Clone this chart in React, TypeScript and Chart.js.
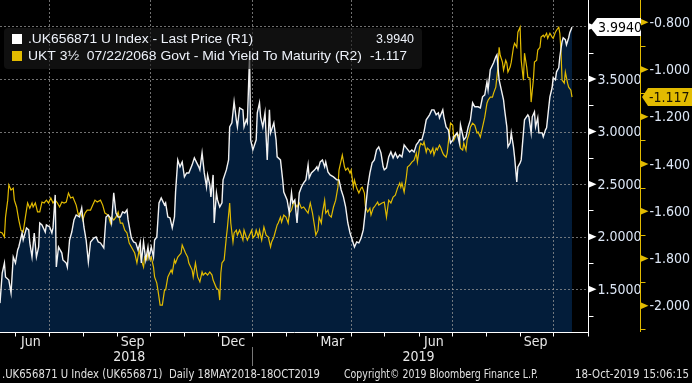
import React, { useEffect, useRef } from "react";
import { Chart, registerables } from "chart.js";

Chart.register(...registerables);

// ---- data (x = days since 18-May-2018) ----
const whiteDays = [
  0, 2, 4, 5, 8, 10, 12, 14, 16, 17,
  20, 21, 24, 26, 27, 29, 31, 33, 35, 36,
  38, 41, 42, 45, 47, 48, 50, 51, 53, 56,
  57, 60, 61, 63, 65, 67, 69, 72, 74, 76,
  78, 80, 82, 85, 87, 89, 91, 94, 96, 98,
  100, 101, 103, 105, 107, 109, 111, 113, 115, 116,
  119, 121, 123, 125, 127, 128, 130, 132, 134, 135,
  137, 139, 140, 142, 144, 146, 149, 150, 152, 154,
  156, 158, 159, 161, 163, 165, 167, 169, 171, 174,
  176, 180, 181, 183, 185, 187, 188, 190, 191, 193,
  194, 196, 197, 199, 201, 202, 205, 207, 208, 210,
  212, 214, 215, 217, 220, 221, 223, 224, 226, 227,
  229, 232, 233, 235, 236, 238, 240, 242, 244, 245,
  248, 250, 251, 254, 256, 257, 260, 262, 264, 265,
  267, 269, 271, 273, 275, 277, 279, 280, 282, 285,
  287, 288, 290, 292, 294, 295, 297, 299, 302, 305,
  307, 309, 311, 313, 315, 317, 319, 321, 323, 325,
  327, 329, 331, 333, 335, 337, 339, 341, 343, 345,
  347, 348, 350, 352, 354, 356, 358, 360, 362, 364,
  366, 368, 371, 373, 375, 377, 379, 380, 382, 384,
  386, 389, 391, 393, 395, 397, 398, 401, 402, 404,
  406, 408, 410, 411, 414, 416, 417, 420, 422, 424,
  426, 428, 430, 433, 435, 437, 439, 441, 442, 444,
  447, 449, 450, 452, 454, 456, 457, 459, 460, 462,
  463, 465, 466, 468, 469, 471, 472, 474, 475, 478,
  479, 481, 482, 484, 485, 487, 488, 491, 492, 494,
  495, 497, 498, 500, 501, 503, 504, 506, 507, 509,
  510, 512, 513, 515, 516, 518,
];
const whiteVals = [
  1.369, 1.655, 1.75, 1.617, 1.588, 1.465, 1.807, 1.75, 1.874, 1.903,
  2.036, 1.969, 2.084, 2.065, 1.941, 1.807, 2.036, 1.807, 1.903, 2.131,
  2.112, 2.045, 2.112, 2.093, 2.036, 2.084, 2.398, 1.712, 1.903, 1.845,
  1.779, 1.75, 1.712, 1.969, 2.045, 2.16, 2.207, 2.188, 2.274, 2.093,
  1.969, 1.76, 1.95, 1.988, 1.998, 1.95, 1.941, 1.893, 2.188, 2.207,
  2.179, 2.131, 2.417, 2.226, 2.188, 2.188, 2.236, 2.226, 2.255, 2.16,
  1.988, 1.95, 1.941, 1.874, 1.95, 1.75, 1.95, 1.779, 1.903, 1.807,
  1.903, 1.807, 1.969, 1.998, 2.322, 2.369, 2.303, 2.322, 2.188, 2.179,
  2.084, 2.188, 2.426, 2.731, 2.665, 2.712, 2.569, 2.607, 2.607, 2.684,
  2.75, 2.665, 2.636, 2.798, 2.607, 2.474, 2.588, 2.493, 2.379, 2.588,
  2.131, 2.417, 2.35, 2.284, 2.322, 2.541, 2.636, 2.731, 3.045, 3.084,
  3.284, 3.112, 3.045, 3.226, 3.207, 3.045, 3.112, 3.084, 3.722, 2.922,
  2.826, 2.922, 3.179, 3.274, 3.141, 3.045, 3.179, 2.731, 3.207, 2.988,
  3.084, 2.922, 2.76, 2.731, 2.541, 2.426, 2.35, 2.226, 2.417, 2.322,
  2.35, 2.131, 2.417, 2.474, 2.512, 2.541, 2.684, 2.56, 2.607, 2.636,
  2.665, 2.636, 2.712, 2.731, 2.665, 2.712, 2.617, 2.588, 2.569, 2.541,
  2.541, 2.445, 2.379, 2.284, 2.131, 2.036, 1.969, 1.903, 1.95, 1.941,
  1.988, 2.065, 2.255, 2.474, 2.607, 2.703, 2.731, 2.826, 2.855, 2.798,
  2.665, 2.636, 2.655, 2.76, 2.807, 2.75, 2.798, 2.75, 2.779, 2.76,
  2.874, 2.845, 2.807, 2.826, 2.807, 2.874, 2.903, 2.922, 2.922, 2.998,
  3.112, 3.16, 3.207, 3.207, 3.16, 3.179, 3.131, 3.207, 3.141, 3.045,
  3.017, 2.893, 2.922, 2.95, 2.988, 2.893, 3.065, 2.922, 2.95, 3.045,
  3.112, 3.274, 3.236, 3.236, 3.226, 3.331, 3.35, 3.474, 3.398, 3.588,
  3.655, 3.712, 3.731, 3.493, 3.398, 3.303, 3.207, 3.045, 2.855, 2.893,
  2.988, 2.855, 2.76, 2.522, 2.665, 2.703, 2.731, 2.988, 3.112, 3.16,
  3.141, 2.988, 3.141, 3.188, 3.045, 3.131, 2.988, 2.988, 2.95, 3.017,
  3.036, 3.236, 3.331, 3.417, 3.512, 3.493, 3.569, 3.607, 3.712, 3.855,
  3.893, 3.874, 3.826, 3.893, 3.941, 3.994,
];

const yellowDays = [
  0, 2, 4, 5, 7, 8, 10, 12, 13, 15,
  17, 19, 21, 23, 25, 27, 29, 30, 32, 34,
  36, 38, 40, 42, 44, 46, 48, 50, 52, 54,
  56, 58, 60, 62, 64, 66, 69, 71, 73, 75,
  77, 79, 82, 84, 86, 88, 91, 93, 95, 98,
  100, 101, 103, 105, 107, 109, 111, 113, 115, 117,
  119, 122, 124, 126, 128, 130, 131, 133, 134, 136,
  137, 139, 140, 142, 143, 145, 147, 149, 150, 152,
  155, 156, 158, 159, 161, 164, 165, 168, 170, 171,
  174, 175, 177, 179, 181, 183, 184, 186, 188, 190,
  192, 193, 196, 198, 199, 200, 201, 203, 205, 206,
  208, 209, 211, 212, 214, 215, 217, 218, 220, 221,
  223, 224, 226, 228, 229, 231, 232, 234, 235, 237,
  239, 241, 243, 245, 246, 248, 249, 251, 252, 254,
  255, 257, 259, 261, 262, 264, 266, 267, 269, 271,
  273, 275, 277, 279, 281, 283, 285, 286, 288, 289,
  291, 292, 294, 295, 297, 298, 300, 302, 304, 306,
  307, 309, 310, 312, 313, 315, 317, 318, 320, 321,
  323, 325, 327, 328, 330, 331, 333, 335, 336, 338,
  339, 342, 343, 346, 348, 350, 352, 354, 356, 358,
  360, 362, 363, 364, 366, 368, 369, 371, 373, 375,
  377, 378, 380, 381, 383, 384, 386, 387, 389, 390,
  392, 393, 395, 396, 398, 399, 401, 402, 404, 405,
  407, 408, 410, 411, 413, 414, 416, 417, 419, 420,
  422, 423, 425, 426, 428, 430, 432, 433, 435, 437,
  439, 441, 442, 444, 446, 447, 449, 451, 452, 453,
  455, 456, 458, 459, 460, 462, 463, 465, 466, 468,
  469, 471, 472, 474, 475, 477, 478, 480, 481, 483,
  484, 486, 487, 489, 490, 492, 493, 495, 496, 498,
  500, 501, 503, 504, 506, 507, 508, 509, 511, 512,
  514, 515, 517, 518,
];
const yellowVals = [
  -1.688, -1.692, -1.709, -1.625, -1.553, -1.489, -1.51, -1.502, -1.553, -1.582,
  -1.637, -1.68, -1.688, -1.625, -1.565, -1.587, -1.565, -1.582, -1.565, -1.603,
  -1.603, -1.561, -1.565, -1.553, -1.565, -1.544, -1.565, -1.553, -1.565, -1.582,
  -1.561, -1.565, -1.561, -1.523, -1.544, -1.54, -1.574, -1.616, -1.603, -1.637,
  -1.608, -1.595, -1.595, -1.574, -1.553, -1.561, -1.553, -1.574, -1.608, -1.616,
  -1.65, -1.625, -1.637, -1.625, -1.603, -1.65, -1.65, -1.68, -1.692, -1.735,
  -1.751, -1.777, -1.819, -1.764, -1.806, -1.836, -1.794, -1.806, -1.777, -1.806,
  -1.794, -1.836, -1.878, -1.904, -1.933, -1.997, -1.997, -1.933, -1.933, -1.878,
  -1.849, -1.861, -1.806, -1.819, -1.794, -1.777, -1.743, -1.777, -1.794, -1.819,
  -1.849, -1.878, -1.819, -1.878, -1.899, -1.857, -1.87, -1.861, -1.87, -1.857,
  -1.87, -1.891, -1.925, -1.933, -1.976, -1.861, -1.819, -1.806, -1.709, -1.667,
  -1.565, -1.65, -1.73, -1.692, -1.68, -1.701, -1.68, -1.692, -1.722, -1.68,
  -1.709, -1.722, -1.701, -1.68, -1.713, -1.701, -1.68, -1.709, -1.68, -1.722,
  -1.667, -1.701, -1.709, -1.751, -1.73, -1.709, -1.692, -1.658, -1.65, -1.625,
  -1.646, -1.616, -1.625, -1.65, -1.608, -1.595, -1.561, -1.565, -1.582, -1.565,
  -1.587, -1.582, -1.595, -1.608, -1.565, -1.608, -1.667, -1.701, -1.68, -1.625,
  -1.65, -1.608, -1.553, -1.608, -1.595, -1.616, -1.625, -1.582, -1.553, -1.498,
  -1.426, -1.384, -1.362, -1.413, -1.426, -1.417, -1.439, -1.426, -1.498, -1.468,
  -1.502, -1.523, -1.502, -1.498, -1.523, -1.582, -1.603, -1.587, -1.616, -1.587,
  -1.582, -1.561, -1.574, -1.565, -1.561, -1.625, -1.553, -1.565, -1.54, -1.532,
  -1.502, -1.481, -1.498, -1.481, -1.519, -1.455, -1.413, -1.405, -1.392, -1.384,
  -1.354, -1.392, -1.329, -1.312, -1.32, -1.307, -1.35, -1.333, -1.341, -1.354,
  -1.333, -1.362, -1.333, -1.341, -1.32, -1.329, -1.354, -1.362, -1.371, -1.354,
  -1.269, -1.227, -1.236, -1.299, -1.278, -1.269, -1.286, -1.333, -1.341, -1.312,
  -1.341, -1.299, -1.269, -1.244, -1.227, -1.236, -1.269, -1.265, -1.286, -1.244,
  -1.202, -1.143, -1.13, -1.117, -1.117, -1.1, -1.075, -0.99, -0.906, -0.94,
  -0.969, -1.003, -0.961, -0.973, -1.011, -0.99, -0.969, -0.906, -0.889, -0.906,
  -0.842, -0.821, -0.961, -1.045, -0.931, -0.99, -1.033, -1.037, -1.138, -1.045,
  -0.969, -0.961, -0.918, -0.906, -0.863, -0.855, -0.863, -0.847, -0.868, -0.847,
  -0.863, -0.868, -0.842, -0.834, -0.821, -0.847, -0.918, -1.045, -1.058, -1.011,
  -1.058, -1.075, -1.088, -1.117,
];

const lastWhite = 3.994;
const lastYellow = -1.117;

// axis ticks
const r1Major = [1.5, 2.0, 2.5, 3.0, 3.5, 4.0];
const r1Minor = [1.25, 1.75, 2.25, 2.75, 3.25, 3.75];
const r2Major = [-0.8, -1.0, -1.2, -1.4, -1.6, -1.8, -2.0];
const r2Minor = [-0.9, -1.1, -1.3, -1.5, -1.7, -1.9, -2.1];
const monthStartDays = [14, 44, 75, 106, 136, 167, 197, 228, 259, 287, 318, 348, 379, 409, 440, 471, 501];
const quarterDays = [44, 136, 228, 318, 409, 501];
const monthLabels = ["Jun", "Sep", "Dec", "Mar", "Jun", "Sep"];
const monthLabelDays = [28, 120, 211, 301, 393, 485];
const yearLabels = ["2018", "2019"];
const yearLabelDays = [117, 379];
const yearSplitDay = 228;

const legendLabels = [
  ".UK656871 U Index - Last Price (R1)",
  "UKT 3\u00BD  07/22/2068 Govt - Mid Yield To Maturity (R2)",
];
const footerTexts = [
  ".UK656871 U Index (UK656871)  Daily 18MAY2018-18OCT2019",
  "Copyright\u00A9 2019 Bloomberg Finance L.P.",
  "18-Oct-2019 15:06:15",
];

const NARROW = "'Liberation Sans Narrow', 'Arial Narrow', 'DejaVu Sans Condensed', sans-serif";
const SANS = "'Liberation Sans', Arial, sans-serif";
const YELLOW = "#e2bb00";
const NAVY = "#031d3a";
const LABEL = "#dce6f5";

function fitText(ctx: CanvasRenderingContext2D, text: string, x: number, y: number, w: number, align: "left" | "right") {
  const m = ctx.measureText(text).width;
  const k = w / m;
  ctx.save();
  ctx.textAlign = "left";
  const x0 = align === "left" ? x : x - w;
  ctx.translate(x0, y);
  ctx.scale(k, 1);
  ctx.fillText(text, 0, 0);
  ctx.restore();
}

const decor = {
  id: "decor",
  beforeDraw(chart: any) {
    const { ctx, width, height } = chart;
    ctx.save();
    ctx.fillStyle = "#000";
    ctx.fillRect(0, 0, width, height);
    ctx.restore();
  },
  beforeDatasetsDraw(chart: any) {
    const { ctx, chartArea: a, scales } = chart;
    ctx.save();
    ctx.strokeStyle = "rgba(150,150,150,0.75)";
    ctx.lineWidth = 1;
    ctx.setLineDash([2, 2]);
    for (const v of r1Major) {
      const y = Math.round(scales.y1.getPixelForValue(v)) + 0.5;
      ctx.beginPath();
      ctx.moveTo(a.left, y);
      ctx.lineTo(a.right, y);
      ctx.stroke();
    }
    for (const d of quarterDays) {
      const x = Math.round(scales.x.getPixelForValue(d)) + 0.5;
      ctx.beginPath();
      ctx.moveTo(x, a.top);
      ctx.lineTo(x, a.bottom);
      ctx.stroke();
    }
    ctx.restore();
  },
  afterDraw(chart: any) {
    const { ctx, chartArea: a, scales } = chart;
    const sx = scales.x, s1 = scales.y1, s2 = scales.y2;
    ctx.save();
    ctx.setLineDash([]);

    // R1 axis
    const ax1 = a.right + 0.5;
    ctx.strokeStyle = "#fff";
    ctx.fillStyle = "#fff";
    ctx.lineWidth = 1;
    ctx.beginPath();
    ctx.moveTo(ax1, 0);
    ctx.lineTo(ax1, a.bottom + 1);
    ctx.stroke();
    for (const v of r1Minor) {
      const y = Math.round(s1.getPixelForValue(v)) + 0.5;
      ctx.beginPath();
      ctx.moveTo(ax1, y);
      ctx.lineTo(ax1 + 5, y);
      ctx.stroke();
    }
    ctx.font = `14px ${NARROW}`;
    ctx.textBaseline = "middle";
    ctx.textAlign = "left";
    for (const v of r1Major) {
      const y = s1.getPixelForValue(v);
      ctx.fillStyle = "#fff";
      ctx.beginPath();
      ctx.moveTo(ax1, y - 3.5);
      ctx.lineTo(ax1 + 8, y);
      ctx.lineTo(ax1 + 0, y + 3.5);
      ctx.closePath();
      ctx.fill();
      ctx.fillStyle = LABEL;
      ctx.fillText(v.toFixed(4), ax1 + 9, y + 1);
    }

    // R2 axis
    const ax2 = 640.5;
    ctx.strokeStyle = YELLOW;
    ctx.beginPath();
    ctx.moveTo(ax2, 0);
    ctx.lineTo(ax2, a.bottom);
    ctx.stroke();
    for (const v of r2Minor) {
      const y = Math.round(s2.getPixelForValue(v)) + 0.5;
      ctx.beginPath();
      ctx.moveTo(ax2, y);
      ctx.lineTo(ax2 + 5, y);
      ctx.stroke();
    }
    for (const v of r2Major) {
      const y = s2.getPixelForValue(v);
      ctx.fillStyle = YELLOW;
      ctx.beginPath();
      ctx.moveTo(ax2, y - 3.5);
      ctx.lineTo(ax2 + 8, y);
      ctx.lineTo(ax2, y + 3.5);
      ctx.closePath();
      ctx.fill();
      ctx.fillStyle = LABEL;
      ctx.fillText(v.toFixed(3), ax2 + 9, y + 1);
    }

    // bottom axis
    const by = a.bottom + 0.5;
    ctx.strokeStyle = "#fff";
    ctx.beginPath();
    ctx.moveTo(0, by);
    ctx.lineTo(a.right + 1, by);
    ctx.stroke();
    for (const d of monthStartDays) {
      const x = Math.round(sx.getPixelForValue(d)) + 0.5;
      ctx.beginPath();
      ctx.moveTo(x, by);
      ctx.lineTo(x, by + 4);
      ctx.stroke();
    }
    ctx.beginPath();
    ctx.moveTo(ax1, by);
    ctx.lineTo(ax1, by + 4);
    ctx.stroke();
    ctx.textAlign = "center";
    ctx.fillStyle = "#e8e8e8";
    ctx.font = `14px ${NARROW}`;
    monthLabels.forEach((t, i) => {
      ctx.fillText(t, sx.getPixelForValue(monthLabelDays[i]), 342);
    });
    yearLabels.forEach((t, i) => {
      ctx.fillText(t, sx.getPixelForValue(yearLabelDays[i]), 357);
    });
    const ysx = Math.round(sx.getPixelForValue(yearSplitDay)) + 0.5;
    ctx.strokeStyle = "#777";
    ctx.beginPath();
    ctx.moveTo(ysx, 347);
    ctx.lineTo(ysx, 366);
    ctx.stroke();

    // footer
    ctx.font = `12.5px ${NARROW}`;
    ctx.fillStyle = "#e0e0e0";
    ctx.textAlign = "left";
    ctx.fillText(footerTexts[0], 2, 375, 318);
    ctx.fillText(footerTexts[1], 344, 375, 194);
    ctx.textAlign = "right";
    ctx.fillText(footerTexts[2], 689, 375, 114);

    // last value boxes
    const wy = s1.getPixelForValue(lastWhite);
    ctx.fillStyle = "#fff";
    ctx.beginPath();
    ctx.moveTo(590, wy);
    ctx.lineTo(597, wy - 9);
    ctx.lineTo(641, wy - 9);
    ctx.lineTo(641, wy + 9);
    ctx.lineTo(597, wy + 9);
    ctx.closePath();
    ctx.fill();
    ctx.fillStyle = "#000";
    ctx.textAlign = "left";
    ctx.font = `14px ${NARROW}`;
    ctx.fillText(lastWhite.toFixed(4), 598, wy + 1);

    const yy = s2.getPixelForValue(lastYellow);
    ctx.fillStyle = YELLOW;
    ctx.beginPath();
    ctx.moveTo(642, yy);
    ctx.lineTo(648, yy - 9);
    ctx.lineTo(692, yy - 9);
    ctx.lineTo(692, yy + 9);
    ctx.lineTo(648, yy + 9);
    ctx.closePath();
    ctx.fill();
    ctx.fillStyle = "#1a1400";
    ctx.fillText(lastYellow.toFixed(3), 649, yy + 1);

    // legend
    ctx.fillStyle = "rgba(26,26,26,0.62)";
    ctx.beginPath();
    if ((ctx as any).roundRect) (ctx as any).roundRect(4, 28, 418, 41, 4);
    else ctx.rect(4, 28, 418, 41);
    ctx.fill();
    ctx.fillStyle = "#fff";
    ctx.fillRect(12, 34, 10, 10);
    ctx.fillStyle = YELLOW;
    ctx.fillRect(12, 51, 10, 10);
    ctx.font = `13px ${SANS}`;
    ctx.fillStyle = "#eef2fa";
    fitText(ctx, legendLabels[0], 28, 39.5, 225, "left");
    fitText(ctx, legendLabels[1], 28, 56.5, 334, "left");
    fitText(ctx, lastWhite.toFixed(4), 414, 39.5, 38, "right");
    fitText(ctx, lastYellow.toFixed(3), 407, 56.5, 37, "right");

    ctx.restore();
  },
};

export default function App() {
  const ref = useRef<HTMLCanvasElement | null>(null);
  useEffect(() => {
    document.body.style.margin = "0";
    document.body.style.background = "#000";
    const canvas = ref.current;
    if (!canvas) return;
    const chart = new Chart(canvas, {
      type: "line",
      data: {
        datasets: [
          {
            label: legendLabels[0],
            data: whiteDays.map((d, i) => ({ x: d, y: whiteVals[i] })),
            yAxisID: "y1",
            borderColor: "#f2f2f2",
            borderWidth: 1.4,
            backgroundColor: NAVY,
            fill: "start",
            pointRadius: 0,
            tension: 0,
          },
          {
            label: legendLabels[1],
            data: yellowDays.map((d, i) => ({ x: d, y: yellowVals[i] })),
            yAxisID: "y2",
            borderColor: YELLOW,
            borderWidth: 1.2,
            fill: false,
            pointRadius: 0,
            tension: 0,
          },
        ],
      },
      options: {
        animation: false,
        responsive: false,
        devicePixelRatio: 1,
        layout: { padding: { left: 0, top: 0, right: 104, bottom: 51 } },
        scales: {
          x: { type: "linear", min: 0, max: 532.5, display: false },
          y1: { type: "linear", min: 1.094, max: 4.252, display: false },
          y2: { type: "linear", min: -2.111, max: -0.706, display: false },
        },
        plugins: {
          legend: { display: false },
          tooltip: { enabled: false },
          filler: { drawTime: "beforeDatasetsDraw" },
        },
      },
      plugins: [decor],
    } as any);
    return () => chart.destroy();
  }, []);
  return (
    <div style={{ position: "absolute", left: 0, top: 0, width: 692, height: 383, background: "#000" }}>
      <canvas ref={ref} width={692} height={383} style={{ display: "block", width: 692, height: 383 }} />
    </div>
  );
}
